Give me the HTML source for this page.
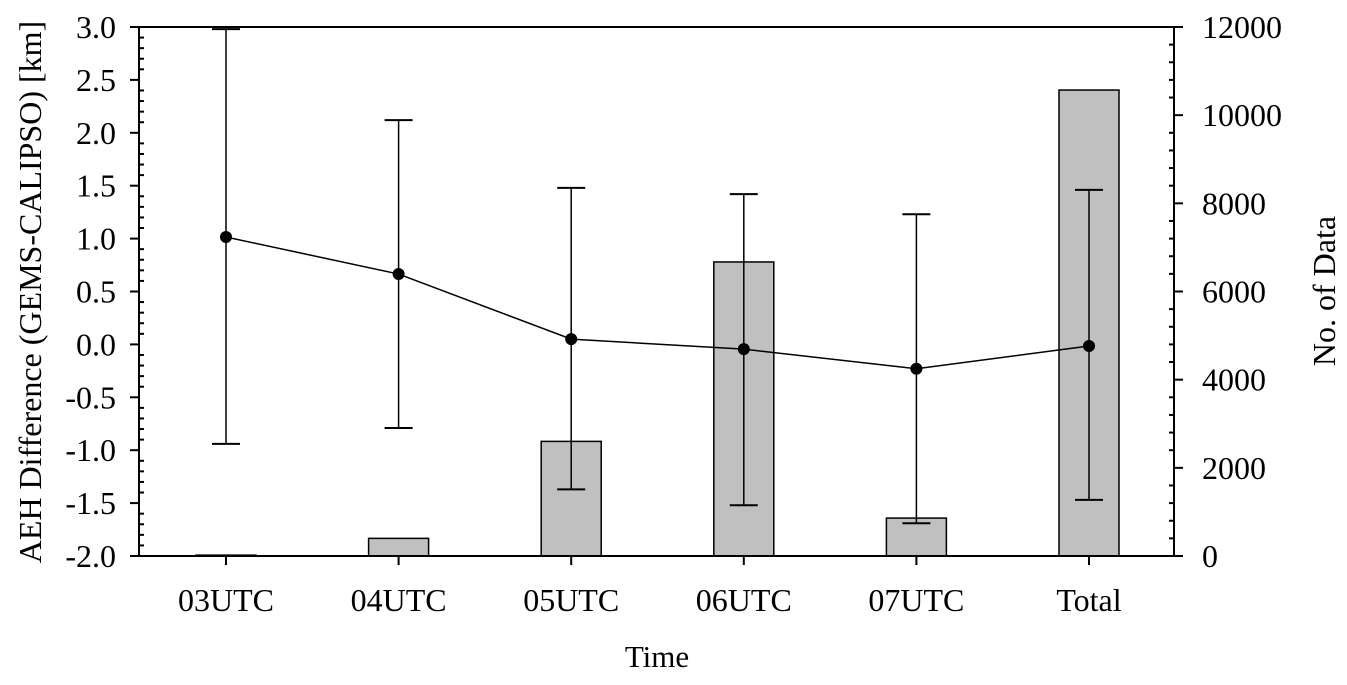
<!DOCTYPE html>
<html><head><meta charset="utf-8"><style>
body{margin:0;background:#fff}
text{font-family:"Liberation Serif",serif;fill:#000}
</style></head><body>
<svg id="c" width="1347" height="680" xmlns="http://www.w3.org/2000/svg"></svg>
<script>
const categories=["03UTC","04UTC","05UTC","06UTC","07UTC","Total"];
const counts=[20,400,2600,6670,860,10570];
const means=[1.015,0.665,0.05,-0.045,-0.23,-0.015];
const upper=[2.98,2.12,1.48,1.42,1.23,1.46];
const lower=[-0.94,-0.79,-1.37,-1.52,-1.69,-1.47];
const leftTicks=[-2.0,-1.5,-1.0,-0.5,0.0,0.5,1.0,1.5,2.0,2.5,3.0];
const rightTicks=[0,2000,4000,6000,8000,10000,12000];

const L=139,R=1174,T=27,B=556;
const yL=v=>B-(v+2)/5*(B-T);
const yR=v=>B-v/12000*(B-T);
const xC=i=>226+i*172.6;
const svg=document.getElementById('c');
const NS='http://www.w3.org/2000/svg';
function el(tag,attrs,name,txt){const e=document.createElementNS(NS,tag);for(const k in attrs)e.setAttribute(k,attrs[k]);


if(txt!==undefined)e.textContent=txt;svg.appendChild(e);return e;}
function line(x1,y1,x2,y2,name,w){return el('line',{x1,y1,x2,y2,stroke:'#000','stroke-width':w||2},name);}

categories.forEach((c,i)=>{
  const y=yR(counts[i]);
  el('rect',{x:xC(i)-30,y:y,width:60,height:B-y,fill:'#c0c0c0',stroke:'#000','stroke-width':1.5},'bar-'+c.toLowerCase());
});
line(L,T,R,T,'top-axis');line(L,B,R,B,'x-axis');line(L,T,L,B,'left-y-axis');line(R,T,R,B,'right-y-axis');
line(R,T,R+9,T,'right-tick');
for(let v=-2;v<=3.001;v+=0.1){const y=yL(v);const maj=Math.abs(v*2-Math.round(v*2))<0.01;
  if(maj)line(L-9,y,L,y,'left-major-tick');else line(L,y,L+5,y,'left-minor-tick');}
leftTicks.forEach(v=>el('text',{x:116,y:yL(v)+11,'text-anchor':'end','font-size':32},'left-tick-label',v.toFixed(1)));
for(let v=0;v<=12000;v+=400){const y=yR(v);if(v%2000===0)line(R,y,R+9,y,'right-major-tick');else line(R-5,y,R,y,'right-minor-tick');}
rightTicks.forEach(v=>el('text',{x:1202,y:yR(v)+11,'font-size':32},'right-tick-label',String(v)));
categories.forEach((c,i)=>{line(xC(i),B,xC(i),B+9,'x-tick');el('text',{x:xC(i),y:611,'text-anchor':'middle','font-size':32},'x-tick-label',c);});
el('polyline',{points:means.map((m,i)=>xC(i)+','+yL(m)).join(' '),fill:'none',stroke:'#000','stroke-width':1.5},'mean-line');
categories.forEach((c,i)=>{const x=xC(i);
  line(x,yL(upper[i]),x,yL(lower[i]),'error-bar',1.5);
  line(x-14,yL(upper[i]),x+14,yL(upper[i]),'error-cap-top',2);
  line(x-14,yL(lower[i]),x+14,yL(lower[i]),'error-cap-bottom',2);
  el('circle',{cx:x,cy:yL(means[i]),r:6,fill:'#000'},'mean-point');
});
el('text',{x:657,y:667,'text-anchor':'middle','font-size':31},'x-axis-title','Time');
el('text',{x:0,y:0,'text-anchor':'middle','font-size':32,transform:'translate(41,292) rotate(-90)'},'left-y-axis-title','AEH Difference (GEMS-CALIPSO) [km]');
el('text',{x:0,y:0,'text-anchor':'middle','font-size':32,transform:'translate(1335,291) rotate(-90)'},'right-y-axis-title','No. of Data');
</script>
</body></html>
